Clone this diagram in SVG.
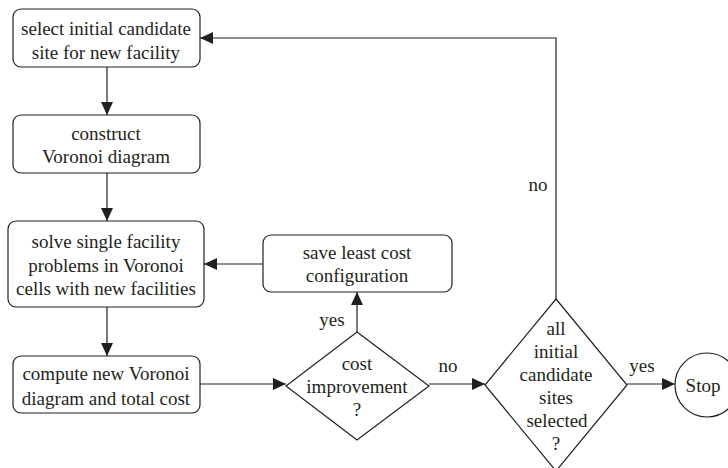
<svg xmlns="http://www.w3.org/2000/svg" width="728" height="468" viewBox="0 0 728 468" font-family="Liberation Serif, DejaVu Serif, serif" font-size="19">
<style>
.n{fill:#fff;stroke:#231f20;stroke-width:1.2}
.t{fill:#231f20;text-anchor:middle}
.c{fill:none;stroke:#231f20;stroke-width:1.2}
</style>
<defs>
<marker id="ah" markerUnits="userSpaceOnUse" markerWidth="14" markerHeight="12" refX="13" refY="6" orient="auto">
<path d="M0,0 L13,6 L0,12 Z" fill="#231f20"/>
</marker>
</defs>
<rect width="728" height="468" fill="#fff"/>
<g id="connectors">
<line class="c" x1="107" y1="67" x2="107" y2="115" marker-end="url(#ah)"/>
<line class="c" x1="107" y1="173" x2="107" y2="221" marker-end="url(#ah)"/>
<line class="c" x1="107" y1="307" x2="107" y2="356" marker-end="url(#ah)"/>
<line class="c" x1="200" y1="384" x2="286" y2="384" marker-end="url(#ah)"/>
<line class="c" x1="357" y1="332" x2="357" y2="292" marker-end="url(#ah)"/>
<line class="c" x1="263" y1="264" x2="204" y2="264" marker-end="url(#ah)"/>
<line class="c" x1="429" y1="384" x2="485" y2="384" marker-end="url(#ah)"/>
<line class="c" x1="627" y1="384" x2="675" y2="384" marker-end="url(#ah)"/>
<polyline class="c" points="556,299 556,38 200,38" marker-end="url(#ah)"/>
<text class="t" x="332" y="326">yes</text>
<text class="t" x="448" y="372">no</text>
<text class="t" x="538" y="191">no</text>
<text class="t" x="642" y="372">yes</text>
</g>
<g id="select">
<rect class="n" x="13" y="9" width="187" height="58" rx="8"/>
<text class="t" x="106" y="35">select initial candidate</text>
<text class="t" x="106" y="59">site for new facility</text>
</g>
<g id="construct">
<rect class="n" x="13" y="115" width="187" height="58" rx="8"/>
<text class="t" x="106" y="140">construct</text>
<text class="t" x="106" y="163">Voronoi diagram</text>
</g>
<g id="solve">
<rect class="n" x="8" y="221" width="196" height="86" rx="8"/>
<text class="t" x="106" y="248">solve single facility</text>
<text class="t" x="106" y="272">problems in Voronoi</text>
<text class="t" x="106" y="295">cells with new facilities</text>
</g>
<g id="compute">
<rect class="n" x="13" y="356" width="187" height="57" rx="8"/>
<text class="t" x="106" y="380">compute new Voronoi</text>
<text class="t" x="106" y="405">diagram and total cost</text>
</g>
<g id="save">
<rect class="n" x="263" y="235" width="189" height="57" rx="8"/>
<text class="t" x="357" y="259">save least cost</text>
<text class="t" x="357" y="282">configuration</text>
</g>
<g id="cost">
<polygon class="n" points="357,332 429,386 357,440 286,386"/>
<text class="t" x="357" y="370">cost</text>
<text class="t" x="357" y="393">improvement</text>
<text class="t" x="357" y="416">?</text>
</g>
<g id="all">
<polygon class="n" points="556,299 627,385 556,471 485,385"/>
<text class="t" x="556" y="335">all</text>
<text class="t" x="556" y="358">initial</text>
<text class="t" x="556" y="381">candidate</text>
<text class="t" x="556" y="404">sites</text>
<text class="t" x="557" y="427">selected</text>
<text class="t" x="556" y="450">?</text>
</g>
<g id="stop">
<circle class="n" cx="707" cy="385" r="32"/>
<text class="t" x="703" y="392">Stop</text>
</g>
</svg>
